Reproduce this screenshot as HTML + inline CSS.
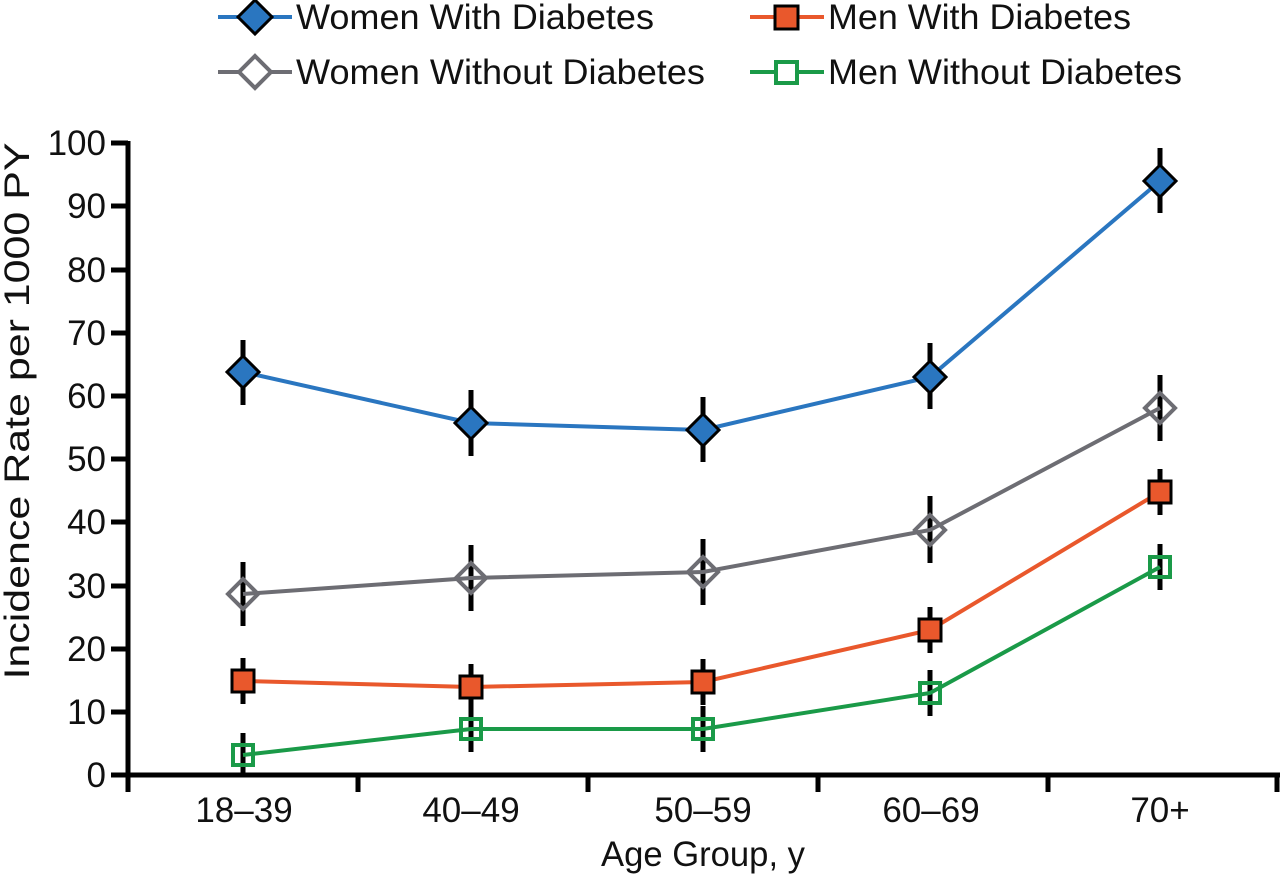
<!DOCTYPE html><html><head><style>body{margin:0;background:#fff}svg{display:block}text{font-family:"Liberation Sans",Arial,sans-serif;fill:#111}</style></head><body>
<svg width="1280" height="874" viewBox="0 0 1280 874">
<g font-size="35">
<line x1="218" y1="17" x2="292" y2="17" stroke="#2a76c0" stroke-width="4"/><path d="M255 0l17 17-17 17-17-17z" fill="#2a76c0" stroke="#000" stroke-width="3"/><text x="296" y="29" textLength="358" lengthAdjust="spacingAndGlyphs">Women With Diabetes</text>
<line x1="750" y1="17" x2="824" y2="17" stroke="#e9582c" stroke-width="4"/><rect x="775" y="6" width="23" height="23" fill="#e9582c" stroke="#000" stroke-width="3"/><text x="828" y="29" textLength="303" lengthAdjust="spacingAndGlyphs">Men With Diabetes</text>
<line x1="218" y1="72" x2="292" y2="72" stroke="#6d6d73" stroke-width="4"/><path d="M255 56l16 16-16 16-16-16z" fill="#fff" stroke="#6d6d73" stroke-width="4"/><text x="296" y="84" textLength="409" lengthAdjust="spacingAndGlyphs">Women Without Diabetes</text>
<line x1="750" y1="72" x2="824" y2="72" stroke="#1a9a48" stroke-width="4"/><rect x="776" y="62" width="21" height="21" fill="#fff" stroke="#1a9a48" stroke-width="4"/><text x="828" y="84" textLength="354" lengthAdjust="spacingAndGlyphs">Men Without Diabetes</text>
</g>
<g stroke="#000" stroke-width="5">
<line x1="128" y1="141" x2="128" y2="777"/><line x1="126" y1="775" x2="1280" y2="775"/>
<line x1="111" y1="143" x2="128" y2="143"/><line x1="111" y1="206" x2="128" y2="206"/><line x1="111" y1="270" x2="128" y2="270"/><line x1="111" y1="333" x2="128" y2="333"/><line x1="111" y1="396" x2="128" y2="396"/><line x1="111" y1="459" x2="128" y2="459"/><line x1="111" y1="522" x2="128" y2="522"/><line x1="111" y1="586" x2="128" y2="586"/><line x1="111" y1="649" x2="128" y2="649"/><line x1="111" y1="712" x2="128" y2="712"/><line x1="111" y1="775" x2="128" y2="775"/>
<line x1="128" y1="775" x2="128" y2="792"/><line x1="358" y1="775" x2="358" y2="792"/><line x1="588" y1="775" x2="588" y2="792"/><line x1="818" y1="775" x2="818" y2="792"/><line x1="1048" y1="775" x2="1048" y2="792"/><line x1="1277" y1="775" x2="1277" y2="792"/>
</g>
<g font-size="35" text-anchor="end">
<text x="106" y="155">100</text><text x="106" y="218">90</text><text x="106" y="282">80</text><text x="106" y="345">70</text><text x="106" y="408">60</text><text x="106" y="471">50</text><text x="106" y="534">40</text><text x="106" y="598">30</text><text x="106" y="661">20</text><text x="106" y="724">10</text><text x="106" y="787">0</text>
</g>
<g font-size="35" text-anchor="middle">
<text x="244" y="822">18–39</text><text x="471" y="822">40–49</text><text x="703" y="822">50–59</text><text x="931" y="822">60–69</text><text x="1160" y="822">70+</text>
<text x="703" y="866" textLength="204" lengthAdjust="spacingAndGlyphs">Age Group, y</text>
<text transform="translate(29 411) rotate(-90)" textLength="537" lengthAdjust="spacingAndGlyphs">Incidence Rate per 1000 PY</text>
</g>
<g stroke="#000" stroke-width="5">
<line x1="243" y1="340" x2="243" y2="405"/><line x1="471" y1="390" x2="471" y2="456"/><line x1="703" y1="397" x2="703" y2="462"/><line x1="930" y1="343" x2="930" y2="409"/><line x1="1160" y1="148" x2="1160" y2="213"/>
<line x1="243" y1="562" x2="243" y2="626"/><line x1="471" y1="545" x2="471" y2="611"/><line x1="703" y1="539" x2="703" y2="605"/><line x1="930" y1="496" x2="930" y2="563"/><line x1="1160" y1="375" x2="1160" y2="441"/>
<line x1="243" y1="658" x2="243" y2="704"/><line x1="471" y1="664" x2="471" y2="710"/><line x1="703" y1="659" x2="703" y2="705"/><line x1="930" y1="607" x2="930" y2="653"/><line x1="1160" y1="469" x2="1160" y2="515"/>
<line x1="243" y1="733" x2="243" y2="775"/><line x1="471" y1="706" x2="471" y2="752"/><line x1="703" y1="706" x2="703" y2="752"/><line x1="930" y1="670" x2="930" y2="716"/><line x1="1160" y1="544" x2="1160" y2="590"/>
</g>
<polyline points="243,372 471,423 703,430 930,377 1160,181" fill="none" stroke="#2a76c0" stroke-width="4"/>
<polyline points="243,594 471,578 703,572 930,530 1160,408" fill="none" stroke="#6d6d73" stroke-width="4"/>
<polyline points="243,681 471,687 703,682 930,630 1160,492" fill="none" stroke="#e9582c" stroke-width="4"/>
<polyline points="243,755 471,729 703,729 930,693 1160,567" fill="none" stroke="#1a9a48" stroke-width="4"/>
<g fill="#2a76c0" stroke="#000" stroke-width="3">
<path d="M243 356l16 16-16 16-16-16z"/><path d="M471 407l16 16-16 16-16-16z"/><path d="M703 414l16 16-16 16-16-16z"/><path d="M930 361l16 16-16 16-16-16z"/><path d="M1160 165l16 16-16 16-16-16z"/></g>
<g fill="none" stroke="#6d6d73" stroke-width="4">
<path d="M243 579l15 15-15 15-15-15z"/><path d="M471 563l15 15-15 15-15-15z"/><path d="M703 557l15 15-15 15-15-15z"/><path d="M930 515l15 15-15 15-15-15z"/><path d="M1160 393l15 15-15 15-15-15z"/></g>
<g fill="#e9582c" stroke="#000" stroke-width="3">
<rect x="232" y="670" width="22" height="22"/><rect x="460" y="676" width="22" height="22"/><rect x="692" y="671" width="22" height="22"/><rect x="919" y="619" width="22" height="22"/><rect x="1149" y="481" width="22" height="22"/></g>
<g fill="none" stroke="#1a9a48" stroke-width="4">
<rect x="233" y="745" width="20" height="20"/><rect x="461" y="719" width="20" height="20"/><rect x="693" y="719" width="20" height="20"/><rect x="920" y="683" width="20" height="20"/><rect x="1150" y="557" width="20" height="20"/></g>
</svg></body></html>
